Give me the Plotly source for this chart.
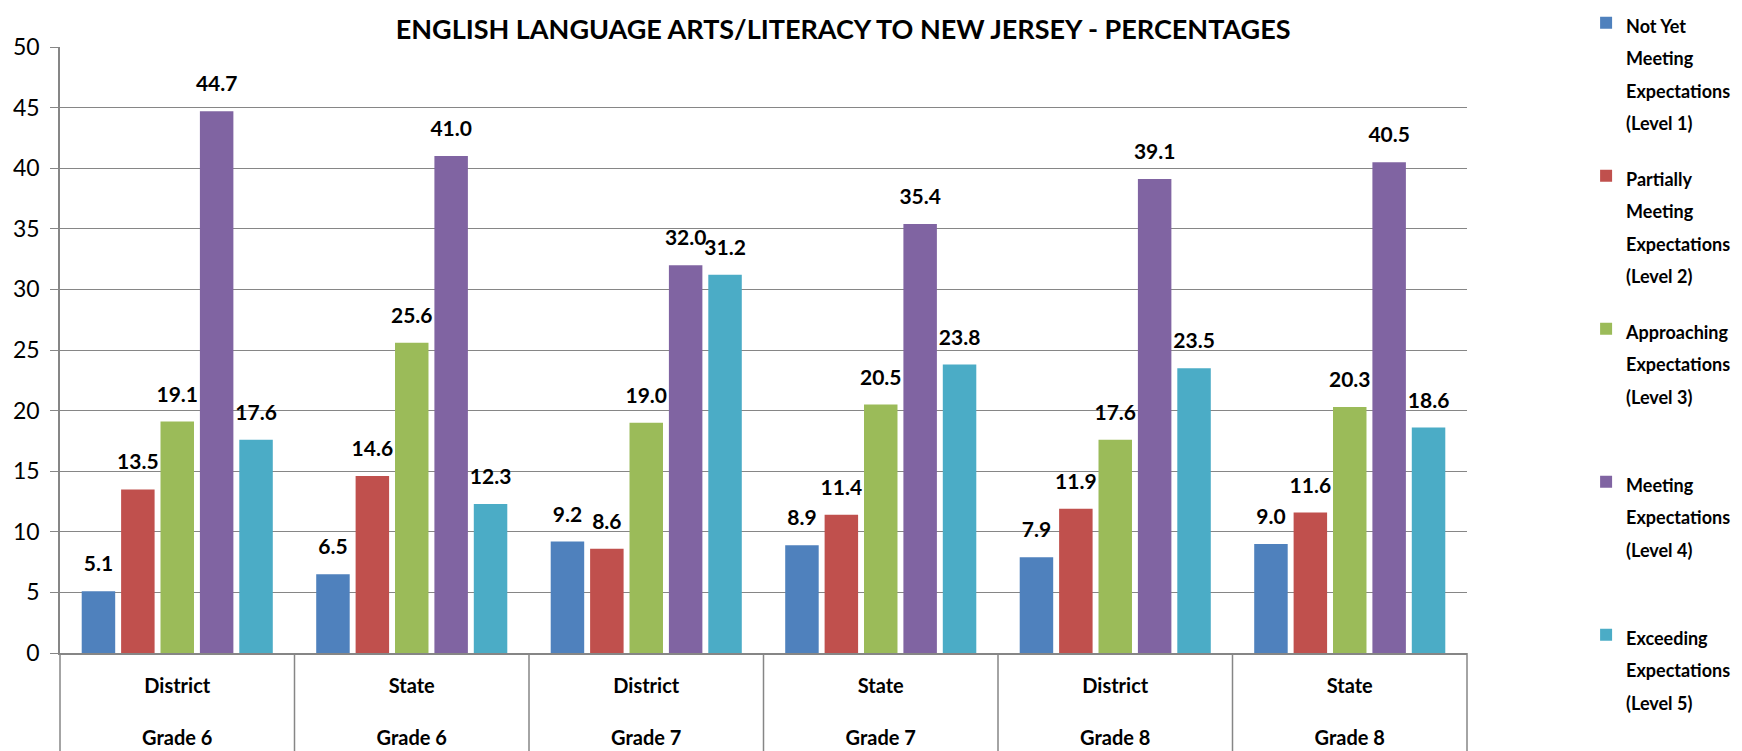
"""
Bar chart: English Language Arts/Literacy, district vs New Jersey (percentages).
"""

import plotly.graph_objects as go

# data
sites = ["District", "State", "District", "State", "District", "State"]
grades = ["Grade 6", "Grade 6", "Grade 7", "Grade 7", "Grade 8", "Grade 8"]

levels = [
    ["Not Yet", "Meeting", "Expectations", "(Level 1)"],
    ["Partially", "Meeting", "Expectations", "(Level 2)"],
    ["Approaching", "Expectations", "(Level 3)", " "],
    ["Meeting", "Expectations", "(Level 4)", " "],
    ["Exceeding", "Expectations", "(Level 5)"],
]
level1 = [5.1, 6.5, 9.2, 8.9, 7.9, 9.0]
level2 = [13.5, 14.6, 8.6, 11.4, 11.9, 11.6]
level3 = [19.1, 25.6, 19.0, 20.5, 17.6, 20.3]
level4 = [44.7, 41.0, 32.0, 35.4, 39.1, 40.5]
level5 = [17.6, 12.3, 31.2, 23.8, 23.5, 18.6]

colors = ["#4F81BD", "#C0504D", "#9BBB59", "#8064A2", "#4BACC6"]

FONT = "Lato"
GRID = "#868686"

W, H = 1742, 751


def main():
    categories = [s + "<br><br>" + g for s, g in zip(sites, grades)]
    series = [level1, level2, level3, level4, level5]

    fig = go.Figure()
    for i, (lines, vals) in enumerate(zip(levels, series)):
        # big base font in the legend = Excel's loose line spacing, text itself smaller
        name = "<br>".join("<span style='font-size:18px'>" + t + "</span>" for t in lines)
        fig.add_trace(go.Bar(
            x=categories, y=vals, name=name,
            marker_color=colors[i], marker_line_width=0,
            legendgroup="g" + str(i),
            # small base font keeps the blank second line short -> gap above bar
            texttemplate="<span style='font-size:21px'>%{y:.1f}</span><br>"
                         "<span style='font-size:1px'> </span>",
            textposition="outside", constraintext="none", cliponaxis=False,
            textfont=dict(family=FONT, size=13, color="black", weight="bold"),
        ))

    # category box below the x axis
    n = len(categories)
    for i in range(n + 1):
        fig.add_shape(type="line", xref="paper", yref="paper",
                      x0=i / n, x1=i / n, y0=0, y1=-0.25,
                      line=dict(color=GRID, width=1.5))

    fig.update_layout(
        width=W, height=H,
        margin=dict(l=60, r=275, t=47, b=98),
        paper_bgcolor="white", plot_bgcolor="white",
        barmode="group", bargap=0.16, bargroupgap=0.15,
        title=dict(text="ENGLISH LANGUAGE ARTS/LITERACY TO NEW JERSEY - PERCENTAGES",
                   x=0.484, xanchor="center", y=0.960, yanchor="middle",
                   font=dict(family=FONT, size=27, color="black", weight="bold")),
        legend=dict(xref="container", yref="container",
                    x=0.9105, xanchor="left", y=1.0, yanchor="top",
                    valign="top", tracegroupgap=20, maxheight=H,
                    font=dict(family=FONT, size=25, color="black", weight="bold")),
        xaxis=dict(showline=True, linecolor=GRID, linewidth=1.5, ticks="",
                   ticklabelstandoff=14, automargin=False,
                   tickfont=dict(family=FONT, size=20, color="black", weight="bold")),
        yaxis=dict(range=[0, 50], dtick=5, showgrid=True, gridcolor=GRID, gridwidth=1,
                   showline=True, linecolor=GRID, linewidth=1.5, automargin=False,
                   ticks="outside", ticklen=8, tickcolor=GRID, zeroline=False,
                   ticklabelstandoff=6,
                   tickfont=dict(family=FONT, size=23, color="black")),
    )

    # drop the browser's default 8px body margin so the figure fills the window
    fig.write_html("out.html", config={"displayModeBar": False},
                   post_script="document.body.style.margin = '0';")


if __name__ == "__main__":
    main()
